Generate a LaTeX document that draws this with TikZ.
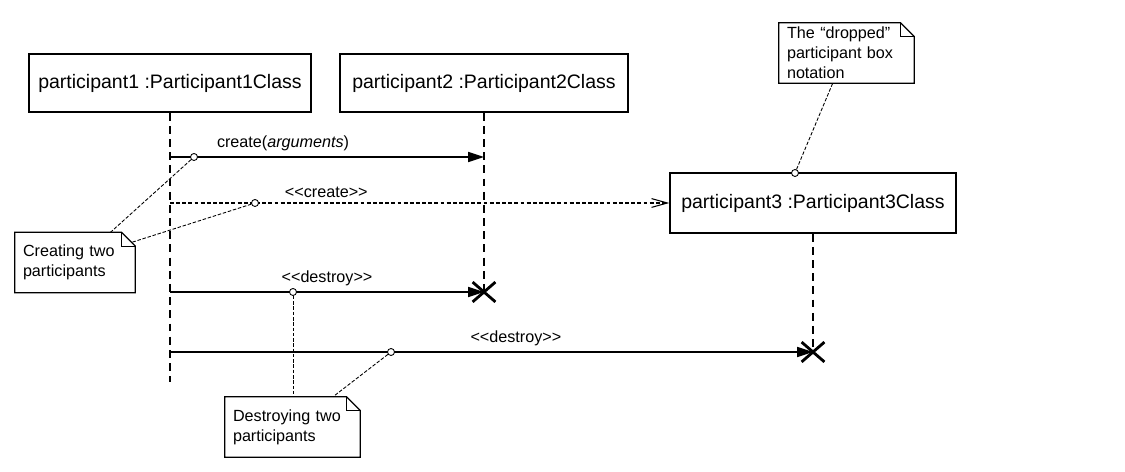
\documentclass[tikz,border=0pt]{standalone}
\usepackage{fontspec}
\setmainfont{Liberation Sans}
\usetikzlibrary{arrows.meta,shapes.misc}

\tikzset{
  participant/.style={draw, line width=0.8pt, minimum width=5.64cm, minimum height=1.16cm, inner sep=0pt, font=\fontsize{11.1pt}{13pt}\selectfont},
  lifeline/.style={line width=0.7pt, dash pattern=on 4.5pt off 3pt},
  msg/.style={line width=0.8pt, -{Triangle[length=9pt,width=5.7pt]}},
  createmsg/.style={line width=0.6pt, dash pattern=on 2.2pt off 1.3pt, -{Straight Barb[length=9pt,width=5pt]}},
  msglabel/.style={font=\fontsize{9.2pt}{11.3pt}\selectfont, above, inner sep=3pt},
  destroyx/.style={cross out, draw, line width=1.6pt, minimum width=0.4cm, minimum height=0.34cm, inner sep=0pt},
  notebox/.style={align=left, inner xsep=0.16cm, inner ysep=1pt, minimum height=1.2cm, font=\fontsize{9.2pt}{11.3pt}\selectfont},
  noteline/.style={line width=0.5pt, dash pattern=on 2pt off 1pt},
  pin/.style={circle, draw, fill=white, line width=0.5pt, minimum size=0.14cm, inner sep=0pt}
}

% note outline with folded corner
\newcommand{\notefold}[1]{%
  \draw[line width=0.7pt] (#1.north west) -- ([xshift=-0.28cm]#1.north east) -- ([yshift=-0.28cm]#1.north east) -- (#1.south east) -- (#1.south west) -- cycle;
  \draw[line width=0.7pt] ([xshift=-0.28cm]#1.north east) |- ([yshift=-0.28cm]#1.north east);
}

\begin{document}
\begin{tikzpicture}[x=0.02cm, y=-0.02cm]
  \useasboundingbox (0,0) rectangle (1125,472);

  % Participants
  \node[participant] (p1) at (170,83) {participant1 :Participant1Class};
  \node[participant, minimum width=5.76cm] (p2) at (484,83) {participant2 :Participant2Class};
  \node[participant, minimum width=5.72cm, minimum height=1.2cm] (p3) at (813,203) {participant3 :Participant3Class};

  % Destruction marks
  \node[destroyx] (x2) at (484,292) {};
  \node[destroyx] (x3) at (813,352) {};
  \coordinate (p1end) at (170,382);

  % Lifelines
  \draw[lifeline] (p1.south) -- (p1end);
  \draw[lifeline] (p2.south) -- (x2.center);
  \draw[lifeline] (p3.south) -- (x3.center);

  % Messages
  \draw[msg] (p1 |- 0,157) -- (p2 |- 0,157) node[msglabel, pos=0.36] {create(\textit{arguments})};
  \draw[createmsg] (p1 |- p3.west) -- (p3.west) node[msglabel, pos=0.313] {<{}<create>{}>};
  \draw[msg] (p1 |- x2) -- (x2.center) node[msglabel, pos=0.5] {<{}<destroy>{}>};
  \draw[msg] (p1 |- x3) -- (x3.center) node[msglabel, pos=0.538] {<{}<destroy>{}>};

  % Notes
  \node[notebox, text width=2.08cm] (crt) at (75,262.5) {Creating two\\participants};
  \node[notebox, text width=2.38cm] (drp) at (846.5,53) {The “dropped”\\participant box\\notation};
  \node[notebox, text width=2.38cm] (dst) at (292.5,427) {Destroying two\\participants};
  \notefold{crt}
  \notefold{drp}
  \notefold{dst}

  % Note pins
  \node[pin] (c1) at (194,157) {};
  \node[pin] (c2) at (255,203) {};
  \node[pin] (c3) at (293,292) {};
  \node[pin] (c4) at (391,352) {};
  \node[pin] (c5) at (795,173) {};

  \draw[noteline] (c1) -- ([xshift=1.92cm]crt.north west);
  \draw[noteline] (c2) -- ([xshift=-0.06cm, yshift=-0.2cm]crt.north east);
  \draw[noteline] (c3) -- (c3 |- dst.north);
  \draw[noteline] (c4) -- ([xshift=2.17cm]dst.north west);
  \draw[noteline] (c5) -- ([xshift=1.08cm]drp.south west);
\end{tikzpicture}
\end{document}
